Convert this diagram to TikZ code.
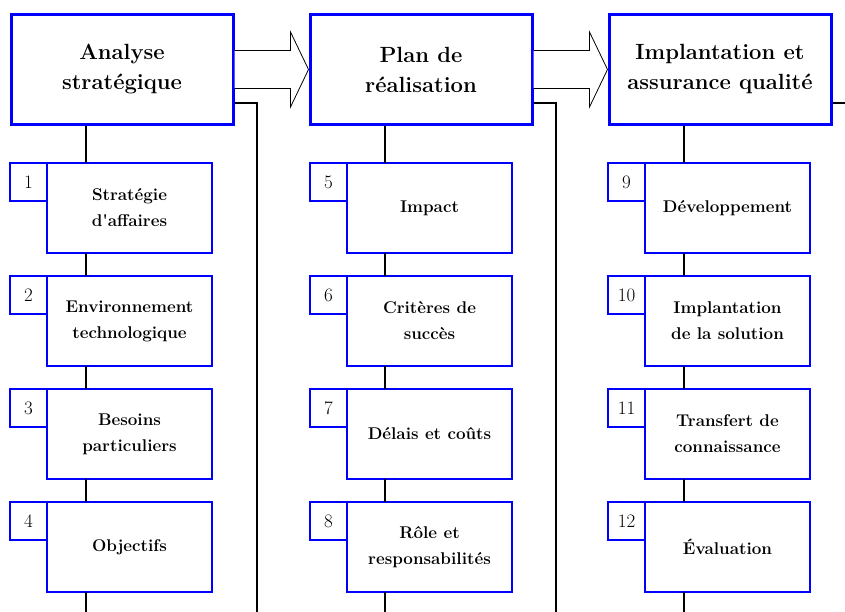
\documentclass[tikz,border=0pt]{standalone}
\usepackage{tikz}

\definecolor{boxblue}{RGB}{0,0,255}

\begin{document}
\begin{tikzpicture}[x=1pt, y=-1pt,
    head/.style={rectangle, draw=boxblue, line width=3pt, fill=white, minimum width=222pt, minimum height=110pt, inner sep=0pt, align=center, font=\fontsize{22}{30}\selectfont\bfseries},
    stepbox/.style={rectangle, draw=boxblue, line width=1.15pt, fill=white, minimum width=165pt, minimum height=90pt, inner sep=0pt, outer sep=0pt, align=center, font=\fontsize{17}{26}\selectfont\bfseries},
    numbox/.style={rectangle, draw=boxblue, line width=1.15pt, fill=white, minimum width=37pt, minimum height=38pt, inner sep=0pt, outer sep=0pt, anchor=north east, font=\fontsize{19}{22}\selectfont},
    conn/.style={line width=2pt},
    bigarrow/.style={draw=black, line width=0.8pt, fill=white}
]
\useasboundingbox (0,0) rectangle (845,612);

% Phases
\node[head] (analyse) at (122,69.5) {Analyse\\stratégique};
\node[head] (plan)    at (421,69.5) {Plan de\\réalisation};
\node[head] (implant) at (720,69.5) {Implantation et\\assurance qualité};

% Steps, first phase
\node[stepbox] (s1) at (129.5,208) {Stratégie\\d\textquotesingle affaires};
\node[stepbox] (s2) at (129.5,321) {Environnement\\technologique};
\node[stepbox] (s3) at (129.5,434) {Besoins\\particuliers};
\node[stepbox] (s4) at (129.5,547) {Objectifs};

% Steps, second phase
\node[stepbox] (s5) at (429.5,208) {Impact};
\node[stepbox] (s6) at (429.5,321) {Critères de\\succès};
\node[stepbox] (s7) at (429.5,434) {Délais et coûts};
\node[stepbox] (s8) at (429.5,547) {Rôle et\\responsabilités};

% Steps, third phase
\node[stepbox] (s9)  at (727.5,208) {Développement};
\node[stepbox] (s10) at (727.5,321) {Implantation\\de la solution};
\node[stepbox] (s11) at (727.5,434) {Transfert de\\connaissance};
\node[stepbox] (s12) at (727.5,547) {Évaluation};

% Step numbers
\node[numbox] (n1)  at (s1.north west)  {1};
\node[numbox] (n2)  at (s2.north west)  {2};
\node[numbox] (n3)  at (s3.north west)  {3};
\node[numbox] (n4)  at (s4.north west)  {4};
\node[numbox] (n5)  at (s5.north west)  {5};
\node[numbox] (n6)  at (s6.north west)  {6};
\node[numbox] (n7)  at (s7.north west)  {7};
\node[numbox] (n8)  at (s8.north west)  {8};
\node[numbox] (n9)  at (s9.north west)  {9};
\node[numbox] (n10) at (s10.north west) {10};
\node[numbox] (n11) at (s11.north west) {11};
\node[numbox] (n12) at (s12.north west) {12};

% Trunks below each phase
\coordinate (t1) at ([xshift=76.5pt]analyse.south west);
\coordinate (t2) at ([xshift=76.5pt]plan.south west);
\coordinate (t3) at ([xshift=76.5pt]implant.south west);

\draw[conn] (t1) -- (t1 |- s1.north);
\draw[conn] (t1 |- s1.south) -- (t1 |- s2.north);
\draw[conn] (t1 |- s2.south) -- (t1 |- s3.north);
\draw[conn] (t1 |- s3.south) -- (t1 |- s4.north);
\draw[conn] (t1 |- s4.south) -- (t1 |- 0,612);

\draw[conn] (t2) -- (t2 |- s5.north);
\draw[conn] (t2 |- s5.south) -- (t2 |- s6.north);
\draw[conn] (t2 |- s6.south) -- (t2 |- s7.north);
\draw[conn] (t2 |- s7.south) -- (t2 |- s8.north);
\draw[conn] (t2 |- s8.south) -- (t2 |- 0,612);

\draw[conn] (t3) -- (t3 |- s9.north);
\draw[conn] (t3 |- s9.south) -- (t3 |- s10.north);
\draw[conn] (t3 |- s10.south) -- (t3 |- s11.north);
\draw[conn] (t3 |- s11.south) -- (t3 |- s12.north);
\draw[conn] (t3 |- s12.south) -- (t3 |- 0,612);

% Side lines leaving each phase
\coordinate (e1) at (257,612);
\coordinate (e2) at (556,612);
\coordinate (e3) at (845,103);
\draw[conn] ([yshift=-33.5pt]analyse.east) -| (e1);
\draw[conn] ([yshift=-33.5pt]plan.east) -| (e2);
\draw[conn] ([yshift=-33.5pt]implant.east) -- (e3);

% Block arrows between phases
\foreach \a/\b in {analyse/plan, plan/implant} {
  \draw[bigarrow] ([yshift=19pt]\a.east) -- ([xshift=-18pt,yshift=19pt]\b.west)
    -- ([xshift=-18pt,yshift=37.5pt]\b.west) -- (\b.west)
    -- ([xshift=-18pt,yshift=-37.5pt]\b.west) -- ([xshift=-18pt,yshift=-19pt]\b.west)
    -- ([yshift=-19pt]\a.east);
}
\end{tikzpicture}
\end{document}
